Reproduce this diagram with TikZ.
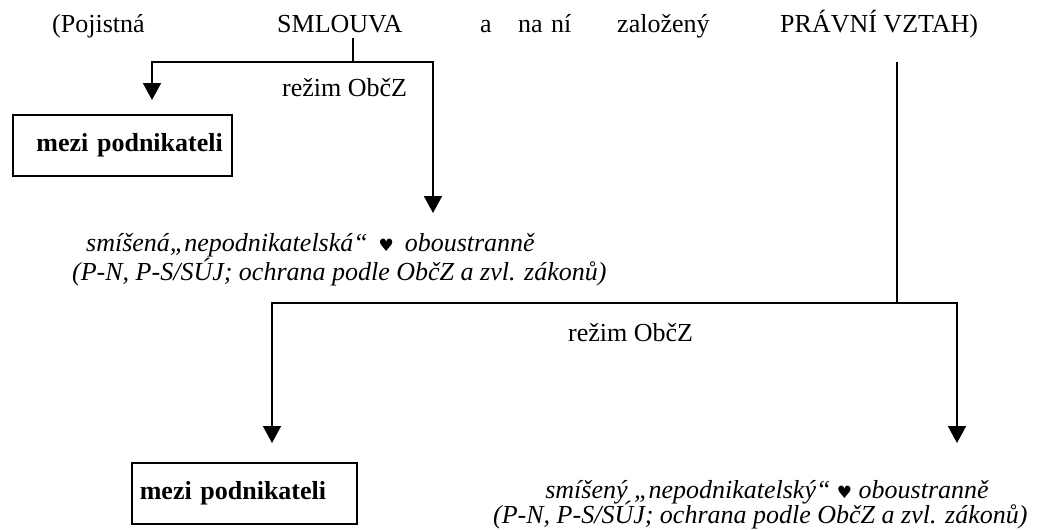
\documentclass[tikz,border=0pt]{standalone}
\usepackage{fontspec}
\setmainfont{Liberation Serif}
\newfontfamily\symf{DejaVu Sans}
\usetikzlibrary{arrows.meta}
\newcommand{\hrt}{{\symf\fontsize{17}{18}\selectfont ♥}}
\tikzset{
  txt/.style={font=\fontsize{26}{30}\selectfont, inner sep=0pt, anchor=base west},
  itx/.style={font=\fontsize{26}{30}\selectfont\itshape, inner sep=0pt, anchor=base west},
  boxed/.style={draw, line width=1.6pt, font=\fontsize{26}{30}\selectfont\bfseries, anchor=north west, minimum height=61pt, inner ysep=0pt},
  conn/.style={line width=1.8pt},
  arr/.style={line width=1.8pt, -{Triangle[width=18pt,length=17pt]}}
}
\begin{document}
\begin{tikzpicture}[x=1pt,y=-1pt]
\useasboundingbox (0,0) rectangle (1050,530);
% top line
\node[txt] (poj) at (52,32) {(Pojistná};
\node[txt] (smlouva) at (277,32) {SMLOUVA};
\node[txt] (wa) at (480,32) {a};
\node[txt] (wna) at (518,32) {na};
\node[txt] (wni) at (551,32) {ní};
\node[txt] (zal) at (617,32) {založený};
\node[txt] (pravni) at (780,32) {PRÁVNÍ VZTAH)};
% upper branch
\coordinate (j1) at (353,62);
\coordinate (s1) at (353,38);
\coordinate (a1) at (152,100);
\coordinate (a2) at (433,213);
\draw[conn] (s1) -- (j1);
\draw[arr] (j1) -| (a1);
\draw[arr] (j1) -| (a2);
\node[txt] (rez1) at (282,96) {režim ObčZ};
\node[boxed, text width=201pt, inner xsep=9pt, align=right] (box1) at (12,114) {mezi podnikateli};
\node[itx] (mix1a) at (86,251) {smíšená„nepodnikatelská“\, \hrt\, oboustranně};
\node[itx] (mix1b) at (72,280) {(P-N, P-S/SÚJ; ochrana podle ObčZ a zvl. zákonů)};
% lower branch
\coordinate (t2) at (897,62);
\coordinate (j2) at (897,303);
\coordinate (a3) at (272,443);
\coordinate (a4) at (957,443);
\draw[conn] (t2) -- (j2);
\draw[arr] (j2) -| (a3);
\draw[arr] (j2) -| (a4);
\node[txt] (rez2) at (568,341) {režim ObčZ};
\node[boxed, text width=209pt, inner xsep=8pt, align=left] (box2) at (131,462) {mezi podnikateli};
\node[itx, anchor=base] (mix2a) at (767,498) {smíšený „nepodnikatelský“ \hrt\ oboustranně};
\node[itx] (mix2b) at (493,523) {(P-N, P-S/SÚJ; ochrana podle ObčZ a zvl. zákonů)};
\end{tikzpicture}
\end{document}
